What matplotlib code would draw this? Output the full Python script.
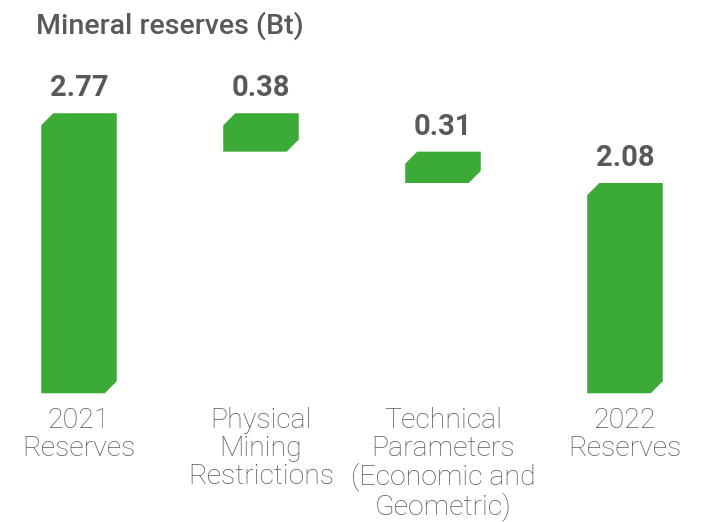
import matplotlib.pyplot as plt
from matplotlib.patches import Polygon

# waterfall data (Bt)
categories = ["2021\nReserves", "Physical\nMining\nRestrictions",
              "Technical\nParameters\n(Economic and\nGeometric)", "2022\nReserves"]
values = [2.77, 0.38, 0.31, 2.08]
kinds = ["total", "decrease", "decrease", "total"]

green = "#3caa37"
grey = "#58595b"

fig = plt.figure(figsize=(7.18, 5.22), dpi=100)
ax = fig.add_axes([0, 0, 1, 1])
ax.set_xlim(-0.434, 3.511)
ax.set_ylim(-1.273, 3.890)
ax.axis("off")

bar_w = 0.415
cx = 0.066   # corner cut, x units
cy = 0.119   # corner cut, y units

running = 0.0
for i, (val, kind) in enumerate(zip(values, kinds)):
    if kind == "total":
        bottom, top = 0.0, val
        running = val
    else:
        top = running
        bottom = running - val
        running = bottom
    x0, x1 = i - bar_w / 2, i + bar_w / 2
    pts = [(x0, bottom), (x1 - cx, bottom), (x1, bottom + cy),
           (x1, top), (x0 + cx, top), (x0, top - cy)]
    ax.add_patch(Polygon(pts, closed=True, facecolor=green, edgecolor="none"))
    ax.annotate(f"{val:.2f}", (i, top), xytext=(0, 8), textcoords="offset points",
                ha="center", va="bottom", fontsize=21, fontweight="bold",
                color=grey, family="Roboto")
    ax.annotate(categories[i], (i, 0), xytext=(0, -10), textcoords="offset points",
                ha="center", va="top", fontsize=20.5, fontweight="light",
                color=grey, family="Roboto", linespacing=1.04)

fig.text(36 / 718, 1 - 34 / 522, "Mineral reserves (Bt)", ha="left",
         va="baseline", fontsize=20.5, fontweight="medium", color=grey,
         family="Roboto")

fig.savefig("out.png", dpi=100)
